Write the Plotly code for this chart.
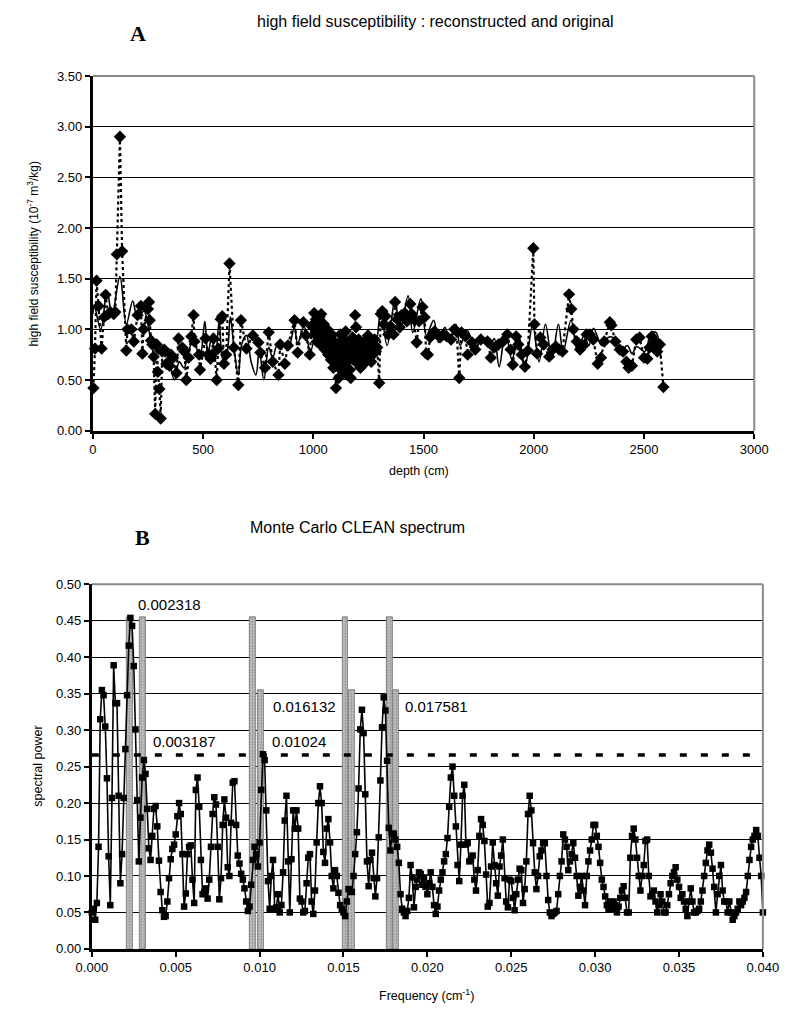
import plotly.graph_objects as go

# ---------------- Panel A: high field susceptibility ----------------
orig_depth = [
    3, 10, 17, 26, 40, 51, 58, 70, 80, 95, 102, 109, 123, 133, 152, 157, 175, 186,
    203, 218, 225, 230, 250, 255, 258, 264, 270, 276, 283, 290, 295, 302, 308, 315,
    324, 334, 348, 355, 364, 380, 389, 406, 415, 424, 435, 447, 457, 461, 482, 486,
    511, 523, 534, 540, 547, 562, 569, 580, 587, 595, 605, 620, 640, 660, 672, 697,
    726, 751, 760, 781, 798, 816, 842, 850, 871, 885, 915, 929, 955, 967, 984, 993,
    1000, 1004, 1008, 1012, 1016, 1020, 1024, 1028, 1032, 1036, 1040, 1044, 1048,
    1052, 1056, 1060, 1064, 1068, 1072, 1076, 1080, 1084, 1088, 1091, 1095, 1099,
    1103, 1107, 1111, 1115, 1119, 1123, 1127, 1131, 1135, 1139, 1143, 1147, 1151,
    1154, 1158, 1162, 1166, 1170, 1174, 1178, 1182, 1186, 1190, 1194, 1198, 1202,
    1206, 1210, 1214, 1218, 1222, 1226, 1230, 1234, 1238, 1242, 1248, 1252, 1256,
    1263, 1268, 1273, 1278, 1284, 1290, 1299,
    1306, 1313, 1320, 1328, 1340, 1350, 1364, 1371, 1380, 1392, 1400, 1415, 1425,
    1440, 1447, 1455, 1469, 1480, 1495, 1505, 1512, 1520, 1530, 1550, 1575, 1590,
    1605, 1625, 1640, 1650, 1662, 1672, 1690, 1700, 1720, 1735, 1760, 1790, 1805,
    1820, 1840, 1860, 1880, 1895, 1905, 1920, 1930, 1945, 1960, 1973, 1998, 2003,
    2015, 2030, 2045, 2070, 2085, 2100, 2115, 2130, 2160, 2170, 2180, 2195, 2210,
    2225, 2240, 2255, 2270, 2290, 2305, 2320, 2345, 2352, 2370, 2390, 2405, 2420,
    2430, 2445, 2465, 2480, 2500, 2515, 2525, 2535, 2550, 2560, 2572, 2588,
]
orig_value = [
    0.42, 0.81, 1.48, 1.23, 0.81, 1.12, 1.34, 1.15, 1.17, 1.15, 1.17, 1.74, 2.90, 1.77, 0.79, 1.00, 1.00, 0.88,
    1.14, 1.23, 0.76, 1.00, 1.20, 1.27, 1.09, 0.89, 0.85, 0.73, 0.165, 0.85, 0.58, 0.41, 0.12, 0.78,
    0.80, 0.66, 0.64, 0.75, 0.72, 0.57, 0.91, 0.82, 0.78, 0.50, 0.72, 0.93, 1.14, 0.88, 0.75, 0.60,
    0.91, 0.75, 0.71, 0.75, 0.91, 0.50, 0.81, 1.10, 1.13, 0.66, 0.75, 1.65, 0.82, 0.45, 1.09, 0.81,
    0.94, 0.87, 0.77, 0.62, 0.97, 0.68, 0.55, 0.85, 0.66, 0.84, 1.09, 0.77, 1.07, 0.94, 0.75, 1.03,
    1.05, 1.16, 0.95, 1.10, 0.88, 1.02, 0.92, 1.12, 0.85, 1.15, 0.98, 0.90, 1.05,
    0.80, 0.96, 0.88, 1.00, 0.75, 0.92, 0.84, 0.70, 0.95, 0.78, 0.62, 0.88, 0.72,
    0.42, 0.80, 0.66, 0.52, 0.86, 0.95, 0.74, 0.60, 0.90, 0.82, 0.68, 0.98, 0.76,
    0.55, 0.70, 0.86, 0.60, 0.52, 0.78, 0.92, 0.70, 0.85, 1.14, 1.02, 0.80, 0.66,
    0.90, 0.75, 0.62, 0.84, 0.72, 0.65, 0.88, 0.78, 0.70, 0.82, 0.94, 0.80, 0.72,
    0.68, 0.85, 0.76, 0.90, 0.78, 0.82, 0.47,
    1.15, 1.18, 1.05, 1.13, 0.95, 1.03, 0.95, 1.27, 1.10, 1.02, 1.14, 1.16, 1.08,
    1.25, 1.15, 1.10, 0.87, 1.08, 1.22, 1.12, 0.76, 0.75, 0.92, 0.98, 0.92, 0.95,
    0.93, 0.90, 1.00, 0.98, 0.52, 0.97, 0.93, 0.75, 0.87, 0.80, 0.90, 0.88, 0.72,
    0.82, 0.85, 0.88, 0.95, 0.80, 0.65, 0.93, 0.85, 0.75, 0.63, 0.79, 1.80, 1.05,
    0.76, 0.92, 0.85, 0.73, 0.80, 0.83, 0.80, 0.78, 1.345, 1.20, 1.00, 0.88, 0.80,
    0.84, 0.95, 0.95, 0.90, 0.66, 0.72, 0.88, 1.07, 1.04, 0.88, 0.80, 0.78, 0.68,
    0.62, 0.64, 0.90, 0.92, 0.72, 0.71, 0.82, 0.93, 0.88, 0.78, 0.85, 0.43,
]

recon_depth = [
    0, 7, 36, 65, 87, 123, 152, 181, 203, 232, 268, 297, 326, 348, 370, 392, 414,
    435, 457, 486, 508, 522, 540, 556, 573, 590, 607, 624, 640, 660, 675, 697, 718,
    740, 755, 776, 798, 816, 835, 856, 885, 914, 929, 958, 987, 1016, 1035, 1050,
    1065, 1080, 1095, 1110, 1125, 1140, 1155, 1170, 1185, 1200, 1215, 1230, 1245,
    1260, 1275, 1292, 1306, 1335, 1371, 1393, 1430, 1451, 1488, 1513, 1546, 1568,
    1597, 1618, 1647, 1666, 1698, 1727, 1763, 1799, 1821, 1843, 1872, 1901, 1930,
    1959, 1995, 2024, 2053, 2082, 2112, 2133, 2169, 2199, 2228, 2250, 2271, 2308,
    2337, 2358, 2394, 2424, 2446, 2467, 2503, 2532, 2554, 2576,
]
recon_value = [
    1.15, 1.23, 1.00, 1.38, 1.14, 1.52, 1.05, 1.28, 1.10, 1.18, 0.86, 0.76, 0.78, 0.67, 0.50, 0.68, 0.62,
    0.80, 0.88, 0.73, 1.08, 0.75, 0.94, 0.70, 1.08, 0.70, 0.75, 1.12, 0.82, 0.55, 0.85, 0.94, 0.68,
    0.55, 0.80, 0.50, 0.82, 0.72, 0.84, 0.85, 0.80, 1.02, 0.86, 1.03, 0.78, 1.00, 0.80, 0.95,
    0.75, 0.92, 0.70, 0.88, 0.66, 0.85, 0.70, 0.90, 0.72, 0.88, 0.70, 0.86, 0.74,
    0.85, 0.78, 0.95, 1.20, 0.84, 1.30, 0.97, 1.33, 0.97, 1.30, 0.94, 1.09, 0.87,
    1.02, 0.89, 1.05, 0.84, 0.99, 0.86, 0.92, 0.83, 0.91, 0.63, 0.97, 0.70, 0.96,
    0.62, 1.04, 0.68, 1.05, 0.71, 1.05, 0.78, 1.09, 0.78, 0.94, 0.84, 1.01, 0.84,
    0.92, 0.92, 0.78, 0.84, 0.76, 0.83, 0.78, 0.96, 0.97, 0.71,
]

# ---------------- Panel B: Monte Carlo CLEAN spectrum ----------------
freq_step = 0.0001
spectral_power = [
    0.050, 0.055, 0.040, 0.063, 0.140, 0.315, 0.355, 0.348, 0.305, 0.234,
    0.127, 0.060, 0.207, 0.389, 0.337, 0.337, 0.210, 0.090, 0.130, 0.207,
    0.274, 0.348, 0.416, 0.454, 0.443, 0.388, 0.301, 0.204, 0.120, 0.180,
    0.235, 0.259, 0.240, 0.192, 0.138, 0.122, 0.155, 0.192, 0.196, 0.168,
    0.121, 0.078, 0.053, 0.044, 0.045, 0.065, 0.097, 0.123, 0.137, 0.143,
    0.157, 0.182, 0.200, 0.185, 0.130, 0.058, 0.076, 0.130, 0.140, 0.142,
    0.095, 0.063, 0.218, 0.235, 0.195, 0.122, 0.075, 0.078, 0.083, 0.069,
    0.095, 0.140, 0.185, 0.208, 0.198, 0.140, 0.068, 0.097, 0.170, 0.205,
    0.180, 0.112, 0.100, 0.173, 0.228, 0.230, 0.170, 0.128, 0.117, 0.103,
    0.095, 0.083, 0.065, 0.052, 0.058, 0.088, 0.122, 0.140, 0.130, 0.113,
    0.146, 0.218, 0.267, 0.259, 0.190, 0.093, 0.055, 0.100, 0.122, 0.055,
    0.057, 0.075, 0.050, 0.060, 0.105, 0.176, 0.210, 0.120, 0.050, 0.123,
    0.190, 0.165, 0.190, 0.165, 0.069, 0.065, 0.050, 0.052, 0.090, 0.125,
    0.130, 0.065, 0.048, 0.080, 0.146, 0.200, 0.223, 0.200, 0.133, 0.118,
    0.165, 0.178, 0.146, 0.100, 0.083, 0.108, 0.100, 0.077, 0.060, 0.055,
    0.050, 0.045, 0.065, 0.082, 0.080, 0.078, 0.100, 0.130, 0.160, 0.220,
    0.301, 0.328, 0.296, 0.212, 0.120, 0.086, 0.122, 0.132, 0.097, 0.072,
    0.097, 0.153, 0.231, 0.304, 0.345, 0.327, 0.258, 0.166, 0.135, 0.158,
    0.158, 0.150, 0.140, 0.118, 0.075, 0.055, 0.050, 0.045, 0.052, 0.070,
    0.115, 0.098, 0.057, 0.085, 0.095, 0.105, 0.103, 0.088, 0.098, 0.085,
    0.075, 0.090, 0.105, 0.085, 0.060, 0.048, 0.058, 0.080, 0.095, 0.105,
    0.120, 0.130, 0.152, 0.195, 0.235, 0.250, 0.210, 0.168, 0.115, 0.093,
    0.143, 0.210, 0.225, 0.143, 0.145, 0.120, 0.123, 0.128, 0.095, 0.080,
    0.108, 0.155, 0.178, 0.170, 0.148, 0.102, 0.058, 0.063, 0.113, 0.146,
    0.115, 0.090, 0.073, 0.113, 0.128, 0.150, 0.097, 0.065, 0.057, 0.095,
    0.093, 0.070, 0.053, 0.075, 0.095, 0.110, 0.108, 0.063, 0.082, 0.120,
    0.185, 0.210, 0.190, 0.145, 0.105, 0.082, 0.100, 0.127, 0.135, 0.145,
    0.145, 0.100, 0.067, 0.050, 0.045, 0.048, 0.050, 0.052, 0.075, 0.100,
    0.120, 0.157, 0.150, 0.140, 0.108, 0.120, 0.130, 0.145, 0.125, 0.100,
    0.073, 0.085, 0.100, 0.080, 0.060, 0.100, 0.120, 0.135, 0.150, 0.170,
    0.170, 0.155, 0.140, 0.118, 0.095, 0.085, 0.072, 0.060, 0.055, 0.065,
    0.055, 0.065, 0.060, 0.050, 0.058, 0.070, 0.080, 0.086, 0.070, 0.050,
    0.050, 0.125, 0.155, 0.165, 0.150, 0.125, 0.100, 0.080, 0.100, 0.115,
    0.148, 0.150, 0.100, 0.072, 0.075, 0.080, 0.065, 0.050, 0.060, 0.075,
    0.065, 0.050, 0.050, 0.060, 0.075, 0.090, 0.100, 0.105, 0.112, 0.095,
    0.085, 0.070, 0.075, 0.065, 0.055, 0.045, 0.065, 0.083, 0.065, 0.050,
    0.050, 0.052, 0.055, 0.065, 0.080, 0.100, 0.118, 0.135, 0.143, 0.132,
    0.110, 0.085, 0.050, 0.075, 0.100, 0.115, 0.080, 0.065, 0.065, 0.050,
    0.065, 0.050, 0.040, 0.045, 0.050, 0.055, 0.065, 0.060, 0.065, 0.070,
    0.078, 0.100, 0.122, 0.140, 0.150, 0.155, 0.163, 0.155, 0.125, 0.100,
    0.050,
]
frequency = [round(i * freq_step, 4) for i in range(len(spectral_power))]

significance_level = 0.266

band_freq = [0.00226, 0.00303, 0.00958, 0.01007, 0.01511, 0.01548, 0.01777, 0.01811]
band_top = [0.455, 0.455, 0.455, 0.355, 0.455, 0.355, 0.455, 0.355]
band_width = 0.00034

peak_labels = ["0.002318", "0.003187", "0.01024", "0.016132", "0.017581"]
peak_label_x = [0.00263, 0.00355, 0.01059, 0.0107, 0.01854]
peak_label_y = [0.472, 0.285, 0.285, 0.332, 0.332]

# ---------------- layout helpers ----------------
W, H = 800, 1016
FONT = "Arial, 'Liberation Sans', sans-serif"
SERIF = "'Times New Roman', 'Liberation Serif', serif"


def px_x(x):
    return x / W


def px_y(y):
    return 1 - y / H


fig = go.Figure()

# Panel A traces
fig.add_trace(go.Scatter(
    x=orig_depth, y=orig_value, mode="lines+markers", name="original",
    line=dict(color="black", width=2.2, dash="3px,3px"),
    marker=dict(symbol="diamond", size=9.5, color="black"),
    cliponaxis=False, xaxis="x", yaxis="y",
))
fig.add_trace(go.Scatter(
    x=recon_depth, y=recon_value, mode="lines", name="reconstructed",
    line=dict(color="black", width=1.6, shape="spline", smoothing=1.0),
    xaxis="x", yaxis="y",
))

# Panel B traces: stippled grey bands at the significant frequencies
fig.add_trace(go.Bar(
    x=band_freq, y=band_top, width=[band_width] * len(band_freq),
    marker=dict(color="#b4b4b4", line=dict(color="#808080", width=1),
                pattern=dict(shape=".", fgcolor="#5e5e5e", bgcolor="#cfcfcf", size=3, solidity=0.5)),
    xaxis="x2", yaxis="y2", showlegend=False, hoverinfo="skip",
))
fig.add_trace(go.Scatter(
    x=[0, 0.04], y=[significance_level, significance_level], mode="lines",
    line=dict(color="black", width=3.5, dash="7px,14px"),
    xaxis="x2", yaxis="y2", cliponaxis=False,
))
fig.add_trace(go.Scatter(
    x=frequency, y=spectral_power, mode="lines+markers",
    line=dict(color="black", width=1.6),
    marker=dict(symbol="square", size=6.5, color="black"),
    xaxis="x2", yaxis="y2", cliponaxis=False,
))

axis_common = dict(
    showline=True, linecolor="black", linewidth=3, ticks="outside", ticklen=5,
    tickwidth=2, tickcolor="black", tickfont=dict(family=FONT, size=13, color="black"),
    zeroline=False, mirror=False,
)

xa_dom = [px_x(80), px_x(769)]
ya_dom = [px_y(430), px_y(70)]
xb_dom = [px_x(79), px_x(778)]
yb_dom = [px_y(956), px_y(586)]

fig.update_layout(
    width=W, height=H, margin=dict(l=0, r=0, t=0, b=0),
    paper_bgcolor="white", plot_bgcolor="white", showlegend=False,
    barmode="overlay", bargap=0,
    xaxis=dict(domain=xa_dom, range=[0, 3000], tickvals=[0, 500, 1000, 1500, 2000, 2500, 3000],
               showgrid=False, anchor="y", **axis_common),
    yaxis=dict(domain=ya_dom, range=[0, 3.5], tickvals=[i * 0.5 for i in range(8)],
               tickformat=".2f", showgrid=True, gridcolor="black", gridwidth=1,
               anchor="x", **axis_common),
    xaxis2=dict(domain=xb_dom, range=[0, 0.04], tickvals=[i * 0.005 for i in range(9)],
                tickformat=".3f", showgrid=False, anchor="y2", **axis_common),
    yaxis2=dict(domain=yb_dom, range=[0, 0.5], tickvals=[i * 0.05 for i in range(11)],
                tickformat=".2f", showgrid=True, gridcolor="black", gridwidth=1,
                anchor="x2", **axis_common),
)

# grey top/right frame of each plot area
for xd, yd in [(xa_dom, ya_dom), (xb_dom, yb_dom)]:
    fig.add_shape(type="line", xref="paper", yref="paper", x0=xd[0], x1=xd[1], y0=yd[1], y1=yd[1],
                  line=dict(color="#8a8a8a", width=2))
    fig.add_shape(type="line", xref="paper", yref="paper", x0=xd[1], x1=xd[1], y0=yd[0], y1=yd[1],
                  line=dict(color="#8a8a8a", width=2))

annotations = [
    dict(text="<b>A</b>", x=px_x(127), y=px_y(27), font=dict(family=SERIF, size=22, color="black")),
    dict(text="high field susceptibility : reconstructed and original", x=px_x(437), y=px_y(15),
         font=dict(family=FONT, size=16, color="black")),
    dict(text="high field susceptibility (10<sup>-7</sup> m<sup>3</sup>/kg)", x=px_x(18), y=px_y(250),
         textangle=-90, font=dict(family=FONT, size=12, color="black")),
    dict(text="depth (cm)", x=px_x(420), y=px_y(471), font=dict(family=FONT, size=12.5, color="black")),
    dict(text="<b>B</b>", x=px_x(132), y=px_y(538), font=dict(family=SERIF, size=22, color="black")),
    dict(text="Monte Carlo CLEAN spectrum", x=px_x(356), y=px_y(528), font=dict(family=FONT, size=16, color="black")),
    dict(text="spectral power", x=px_x(22), y=px_y(771), textangle=-90,
         font=dict(family=FONT, size=12.5, color="black")),
    dict(text="Frequency (cm<sup>-1</sup>)", x=px_x(428), y=px_y(1003), font=dict(family=FONT, size=12.5, color="black")),
]
for a in annotations:
    a.update(xref="paper", yref="paper", showarrow=False, xanchor="center", yanchor="middle")

# significance-peak frequency labels, placed in data coordinates
for txt, lx, ly in zip(peak_labels, peak_label_x, peak_label_y):
    annotations.append(dict(text=txt, x=lx, y=ly, xref="x2", yref="y2", showarrow=False,
                            xanchor="left", yanchor="middle",
                            font=dict(family=FONT, size=15, color="black")))

fig.update_layout(annotations=annotations)

fig.write_html("out.html")
